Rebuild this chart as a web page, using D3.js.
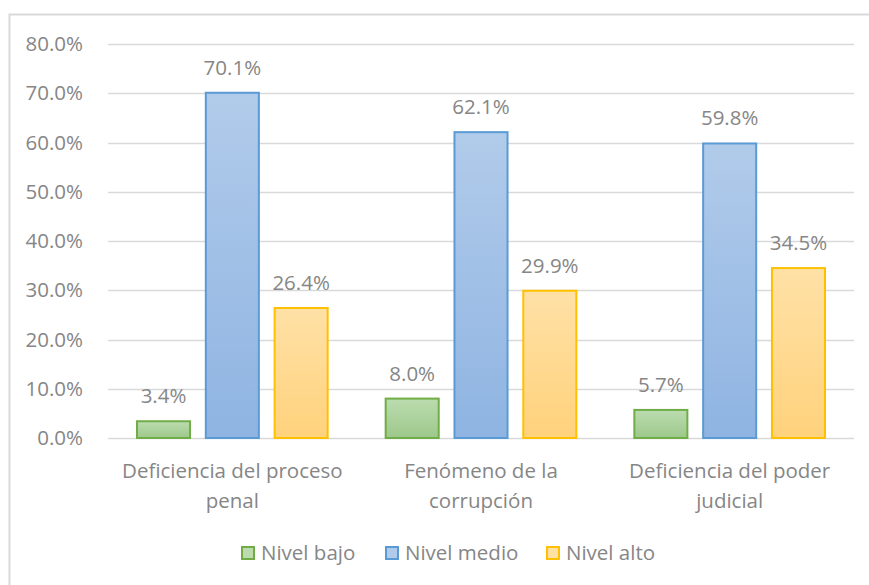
<!DOCTYPE html>
<html>
<head>
<meta charset="utf-8">
<script src="https://cdn.jsdelivr.net/npm/d3@7"></script>
<style>
  body { margin: 0; background: #fff; }
  text { font-family: "Open Sans", "Noto Sans", sans-serif; fill: #868686; }
</style>
</head>
<body>
<div id="chart"></div>
<script>
// data
const categories = [["Deficiencia del proceso", "penal"], ["Fenómeno de la", "corrupción"], ["Deficiencia del poder", "judicial"]];
const series = ["Nivel bajo", "Nivel medio", "Nivel alto"];
const bajo = [3.4, 8.0, 5.7];
const medio = [70.1, 62.1, 59.8];
const alto = [26.4, 29.9, 34.5];
const yTicks = [0, 10, 20, 30, 40, 50, 60, 70, 80];

const W = 869, H = 585;
const margin = {left: 108, right: 15, top: 44, bottom: 147};
const width = W - margin.left - margin.right;
const height = H - margin.top - margin.bottom;
const fontSize = "20.5px";

const fills = [["#bcdcb0", "#9dc88a"], ["#b1cbea", "#8fb4e2"], ["#ffe1a6", "#ffd27c"]];
const strokes = ["#70ad47", "#5b9bd5", "#ffc000"];

const svg = d3.select("#chart").append("svg")
    .attr("width", W).attr("height", H);

// gradients
const defs = svg.append("defs");
fills.forEach((f, i) => {
  const g = defs.append("linearGradient").attr("id", "grad" + i)
      .attr("x1", 0).attr("y1", 0).attr("x2", 0).attr("y2", 1);
  g.append("stop").attr("offset", "0%").attr("stop-color", f[0]);
  g.append("stop").attr("offset", "100%").attr("stop-color", f[1]);
});

// outer frame
svg.append("rect")
    .attr("x", 9.5).attr("y", 14.5)
    .attr("width", W + 10).attr("height", H + 10)
    .attr("fill", "none").attr("stroke", "#d9d9d9").attr("stroke-width", 2);

const g = svg.append("g").attr("transform", `translate(${margin.left},${margin.top})`);

const y = d3.scaleLinear().domain([0, 80]).range([height, 0]);
const x = d3.scaleBand().domain(d3.range(categories.length)).range([0, width]).paddingInner(0).paddingOuter(0);
const xSub = d3.scaleBand().domain(d3.range(series.length)).range([28, x.bandwidth() - 28]).paddingInner(0.2);

// gridlines
g.append("g").selectAll("line").data(yTicks).join("line")
    .attr("x1", 0).attr("x2", width)
    .attr("y1", d => Math.round(y(d)) + 0.5).attr("y2", d => Math.round(y(d)) + 0.5)
    .attr("stroke", "#d9d9d9").attr("stroke-width", 1.5);

// y axis labels
const yAxis = g.append("g")
    .attr("transform", "translate(-22,0)")
    .call(d3.axisLeft(y).tickValues(yTicks).tickSize(0).tickFormat(d => d.toFixed(1) + "%"));
yAxis.select(".domain").remove();
yAxis.selectAll("text").style("font-size", fontSize).attr("fill", "#868686")
    .style("font-family", '"Open Sans", sans-serif');

const data = [bajo, medio, alto];

const groups = g.append("g").selectAll("g").data(categories).join("g")
    .attr("transform", (d, i) => `translate(${x(i)},0)`);

groups.selectAll("rect")
    .data((d, i) => data.map((s, k) => ({k: k, v: s[i]})))
    .join("rect")
    .attr("x", d => xSub(d.k) + 1)
    .attr("y", d => y(d.v))
    .attr("width", xSub.bandwidth() - 2)
    .attr("height", d => height - y(d.v))
    .attr("fill", d => `url(#grad${d.k})`)
    .attr("stroke", d => strokes[d.k])
    .attr("stroke-width", 2);

groups.selectAll("text.val")
    .data((d, i) => data.map((s, k) => ({k: k, v: s[i]})))
    .join("text")
    .attr("class", "val")
    .attr("x", d => xSub(d.k) + xSub.bandwidth() / 2)
    .attr("y", d => y(d.v) - 18)
    .attr("text-anchor", "middle")
    .style("font-size", fontSize)
    .text(d => d.v.toFixed(1) + "%");

// category labels
groups.append("text")
    .attr("x", x.bandwidth() / 2)
    .attr("y", height + 40)
    .attr("text-anchor", "middle")
    .style("font-size", fontSize)
    .selectAll("tspan").data(d => d).join("tspan")
    .attr("x", x.bandwidth() / 2)
    .attr("dy", (d, i) => i === 0 ? 0 : 30)
    .text(d => d);

// legend
const legendX = [242, 386, 547];
const legend = svg.append("g").attr("transform", "translate(0,547)");
series.forEach((s, i) => {
  legend.append("rect")
      .attr("x", legendX[i]).attr("y", 0)
      .attr("width", 12).attr("height", 12)
      .attr("fill", fills[i][0]).attr("stroke", strokes[i]).attr("stroke-width", 2);
  legend.append("text")
      .attr("x", legendX[i] + 19).attr("y", 13)
      .style("font-size", fontSize)
      .text(s);
});
</script>
</body>
</html>
